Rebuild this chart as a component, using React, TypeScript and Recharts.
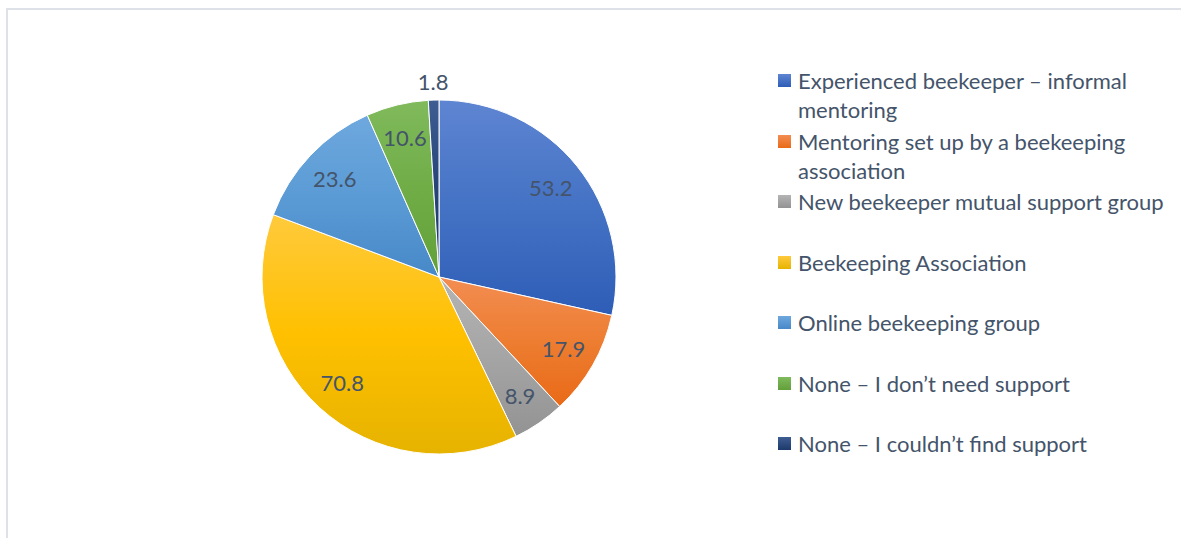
import { PieChart, Pie, Cell, Legend } from 'recharts'

const categories = [
  'Experienced beekeeper – informal mentoring',
  'Mentoring set up by a beekeeping association',
  'New beekeeper mutual support group',
  'Beekeeping Association',
  'Online beekeeping group',
  'None – I don’t need support',
  'None – I couldn’t find support',
]

const values = [53.2, 17.9, 8.9, 70.8, 23.6, 10.6, 1.8]

// top / middle / bottom of each slice gradient
const colors = [
  ['#5E85D2', '#4472C4', '#2E5DB7'],
  ['#F38D52', '#ED7D31', '#E96A17'],
  ['#B4B4B4', '#A5A5A5', '#939393'],
  ['#FFCA3C', '#FFC000', '#E6B300'],
  ['#6EA8DE', '#5B9BD5', '#4788C8'],
  ['#80BA5C', '#70AD47', '#62A03A'],
  ['#3E5D92', '#264478', '#1E3A6C'],
]

const data = categories.map((name, i) => ({ name, value: values[i] }))

const TEXT = '#44546A'
const FONT = 'Lato, "Open Sans", sans-serif'
const RADIAN = Math.PI / 180

const renderLabel = (props: any) => {
  const { cx, cy, midAngle, outerRadius, value } = props
  const r = value < 5 ? outerRadius + 19 : outerRadius * 0.81
  const x = cx + r * Math.cos(-midAngle * RADIAN)
  const y = cy + r * Math.sin(-midAngle * RADIAN)
  return (
    <text
      x={x}
      y={y}
      fill={TEXT}
      fontSize={22}
      fontFamily={FONT}
      textAnchor='middle'
      dominantBaseline='central'
    >
      {value}
    </text>
  )
}

const renderLegend = () => (
  <div style={{ fontFamily: FONT, fontSize: 22, color: TEXT }}>
    {data.map((d, i) => (
      <div key={d.name} style={{ height: 60.5, display: 'flex' }}>
        <div
          style={{
            width: 13,
            height: 13,
            marginTop: 8,
            marginRight: 7,
            flexShrink: 0,
            background: `linear-gradient(${colors[i][0]}, ${colors[i][2]})`,
          }}
        />
        <div style={{ width: 385, lineHeight: '29px' }}>{d.name}</div>
      </div>
    ))}
  </div>
)

const App = () => {
  return (
    <div
      style={{
        position: 'absolute',
        left: 0,
        top: 0,
        width: 1181,
        height: 538,
        overflow: 'hidden',
        background: '#fff',
      }}
    >
      {/* chart frame, cut off at right and bottom */}
      <div
        style={{
          position: 'absolute',
          left: 6,
          top: 8,
          width: 1300,
          height: 700,
          border: '2px solid #DEE2E8',
        }}
      />
      <svg width={0} height={0} style={{ position: 'absolute' }}>
        <defs>
          {colors.map((c, i) => (
            <linearGradient key={i} id={`slice${i}`} x1='0' y1='0' x2='0' y2='1'>
              <stop offset='0%' stopColor={c[0]} />
              <stop offset='50%' stopColor={c[1]} />
              <stop offset='100%' stopColor={c[2]} />
            </linearGradient>
          ))}
        </defs>
      </svg>
      <PieChart width={1181} height={538} style={{ position: 'absolute', left: 0, top: 0 }}>
        <Pie
          data={data}
          dataKey='value'
          nameKey='name'
          cx={434}
          cy={272}
          outerRadius={177}
          startAngle={90}
          endAngle={-270}
          stroke='#fff'
          strokeWidth={1}
          label={renderLabel}
          labelLine={false}
          isAnimationActive={false}
        >
          {data.map((d, i) => (
            <Cell key={d.name} fill={`url(#slice${i})`} />
          ))}
        </Pie>
        <Legend
          content={renderLegend}
          layout='vertical'
          verticalAlign='top'
          align='right'
          wrapperStyle={{ left: 778, top: 66, width: 410, right: 'auto' }}
        />
      </PieChart>
    </div>
  )
}

export default App
